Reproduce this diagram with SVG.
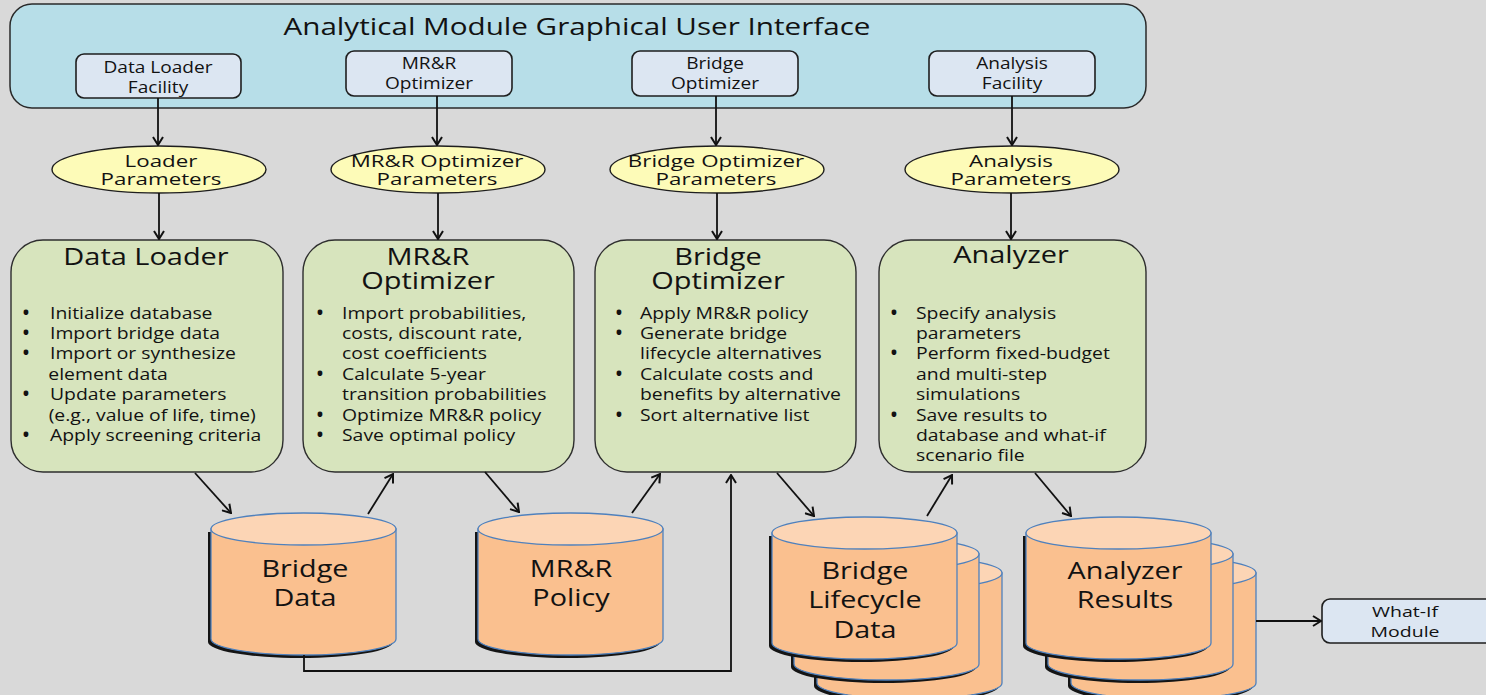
<svg xmlns="http://www.w3.org/2000/svg" xmlns:xlink="http://www.w3.org/1999/xlink" width="1486" height="695" viewBox="0 0 1486 695">
<style>
text{font-family:"Open Sans","Noto Sans","Liberation Sans",sans-serif;fill:#121212}
.bg{fill:#d9d9d9}
.gui{fill:#b7dee8;stroke:#2a2a2a;stroke-width:1.5}
.fac{fill:#dce6f2;stroke:#1e1e1e;stroke-width:1.6}
.par{fill:#fdfbb8;stroke:#1e1e1e;stroke-width:1.4}
.mod{fill:#d7e4bd;stroke:#2e2e2e;stroke-width:1.4}
.cb{fill:#fac08f;stroke:#4f81bd;stroke-width:1.3}
.ct{fill:#fcd5b5;stroke:#4f81bd;stroke-width:1.3}
.shd{fill:#141414}
.conn{fill:none;stroke:#111;stroke-width:1.8;marker-end:url(#ah)}
.title{font-size:23.4px}
.small{font-size:15.4px}
.ptxt{font-size:16.8px}
.mtitle{font-size:22.8px}
.body{font-size:17px}
.bul{font-size:17px;font-weight:bold}
.ctxt{font-size:23.4px}
.wtxt{font-size:15px}
</style>
<defs>
<marker id="ah" viewBox="0 0 12 12" refX="11" refY="6" markerWidth="12" markerHeight="12" markerUnits="userSpaceOnUse" orient="auto">
<path d="M3,1 L11,6 L3,11" fill="none" stroke="#111" stroke-width="2"/>
</marker>
<g id="cyl">
<path class="shd" d="M-3,3 V113 A92.5,16 0 0 0 182,113 V3 Z"/>
<path class="cb" d="M0,0 V110 A92.5,16 0 0 0 185,110 V0 Z"/>
<ellipse class="ct" cx="92.5" cy="0" rx="92.5" ry="16"/>
</g>
</defs>
<rect class="bg" x="0" y="0" width="1486" height="695"/>

<g id="gui">
<rect class="gui" x="10" y="4" width="1136" height="104" rx="22"/>
<text class="title" text-anchor="middle" transform="translate(577,35) scale(1.267,1)">Analytical Module Graphical User Interface</text>
</g>

<g id="fac-loader">
<rect class="fac" x="76" y="54" width="165" height="44" rx="8"/>
<text class="small" text-anchor="middle" transform="translate(158,0) scale(1.24,1)"><tspan x="0" y="73">Data Loader</tspan><tspan x="0" y="93">Facility</tspan></text>
</g>
<g id="fac-mrr">
<rect class="fac" x="346" y="51" width="166" height="45" rx="8"/>
<text class="small" text-anchor="middle" transform="translate(429,0) scale(1.24,1)"><tspan x="0" y="69">MR&amp;R</tspan><tspan x="0" y="89">Optimizer</tspan></text>
</g>
<g id="fac-bridge">
<rect class="fac" x="632" y="51" width="166" height="45" rx="8"/>
<text class="small" text-anchor="middle" transform="translate(715,0) scale(1.24,1)"><tspan x="0" y="69">Bridge</tspan><tspan x="0" y="89">Optimizer</tspan></text>
</g>
<g id="fac-analysis">
<rect class="fac" x="929" y="51" width="166" height="45" rx="8"/>
<text class="small" text-anchor="middle" transform="translate(1012,0) scale(1.24,1)"><tspan x="0" y="69">Analysis</tspan><tspan x="0" y="89">Facility</tspan></text>
</g>

<g id="par-loader">
<ellipse class="par" cx="159" cy="169.5" rx="107" ry="23.5"/>
<text class="ptxt" text-anchor="middle" transform="translate(161,0) scale(1.33,1)"><tspan x="0" y="167">Loader</tspan><tspan x="0" y="185">Parameters</tspan></text>
</g>
<g id="par-mrr">
<ellipse class="par" cx="438" cy="169.5" rx="107" ry="23.5"/>
<text class="ptxt" text-anchor="middle" transform="translate(437,0) scale(1.33,1)"><tspan x="0" y="167">MR&amp;R Optimizer</tspan><tspan x="0" y="185">Parameters</tspan></text>
</g>
<g id="par-bridge">
<ellipse class="par" cx="717" cy="169.5" rx="107" ry="23.5"/>
<text class="ptxt" text-anchor="middle" transform="translate(716,0) scale(1.33,1)"><tspan x="0" y="167">Bridge Optimizer</tspan><tspan x="0" y="185">Parameters</tspan></text>
</g>
<g id="par-analysis">
<ellipse class="par" cx="1012" cy="169.5" rx="107" ry="23.5"/>
<text class="ptxt" text-anchor="middle" transform="translate(1011,0) scale(1.33,1)"><tspan x="0" y="167">Analysis</tspan><tspan x="0" y="185">Parameters</tspan></text>
</g>

<g id="mod-loader">
<rect class="mod" x="11" y="240" width="272" height="232" rx="32"/>
<text class="mtitle" text-anchor="middle" transform="translate(146,265) scale(1.27,1)">Data Loader</text>
<text class="bul" text-anchor="middle"><tspan x="26" y="319">•</tspan><tspan x="26" y="339">•</tspan><tspan x="26" y="359">•</tspan><tspan x="26" y="400">•</tspan><tspan x="26" y="441">•</tspan></text>
<text class="body" transform="translate(50,0) scale(1.14,1)"><tspan x="0" y="319">Initialize database</tspan><tspan x="0" y="339">Import bridge data</tspan><tspan x="0" y="359">Import or synthesize</tspan><tspan x="-1.5" y="380">element data</tspan><tspan x="0" y="400">Update parameters</tspan><tspan x="-1.2" y="421">(e.g., value of life, time)</tspan><tspan x="0" y="441">Apply screening criteria</tspan></text>
</g>
<g id="mod-mrr">
<rect class="mod" x="303" y="240" width="271" height="232" rx="32"/>
<text class="mtitle" text-anchor="middle" transform="translate(428,0) scale(1.27,1)"><tspan x="0" y="265">MR&amp;R</tspan><tspan x="0" y="289">Optimizer</tspan></text>
<text class="bul" text-anchor="middle"><tspan x="320" y="319">•</tspan><tspan x="320" y="380">•</tspan><tspan x="320" y="421">•</tspan><tspan x="320" y="441">•</tspan></text>
<text class="body" transform="translate(342,0) scale(1.14,1)"><tspan x="0" y="319">Import probabilities,</tspan><tspan x="0" y="339">costs, discount rate,</tspan><tspan x="0" y="359">cost coefficients</tspan><tspan x="0" y="380">Calculate 5-year</tspan><tspan x="0" y="400">transition probabilities</tspan><tspan x="0" y="421">Optimize MR&amp;R policy</tspan><tspan x="0" y="441">Save optimal policy</tspan></text>
</g>
<g id="mod-bridge">
<rect class="mod" x="595" y="240" width="261" height="232" rx="32"/>
<text class="mtitle" text-anchor="middle" transform="translate(718,0) scale(1.27,1)"><tspan x="0" y="265">Bridge</tspan><tspan x="0" y="289">Optimizer</tspan></text>
<text class="bul" text-anchor="middle"><tspan x="619" y="319">•</tspan><tspan x="619" y="339">•</tspan><tspan x="619" y="380">•</tspan><tspan x="619" y="421">•</tspan></text>
<text class="body" transform="translate(640,0) scale(1.14,1)"><tspan x="0" y="319">Apply MR&amp;R policy</tspan><tspan x="0" y="339">Generate bridge</tspan><tspan x="0" y="359">lifecycle alternatives</tspan><tspan x="0" y="380">Calculate costs and</tspan><tspan x="0" y="400">benefits by alternative</tspan><tspan x="0" y="421">Sort alternative list</tspan></text>
</g>
<g id="mod-analyzer">
<rect class="mod" x="879" y="240" width="267" height="232" rx="32"/>
<text class="mtitle" text-anchor="middle" transform="translate(1011,263) scale(1.27,1)">Analyzer</text>
<text class="bul" text-anchor="middle"><tspan x="894" y="319">•</tspan><tspan x="894" y="359">•</tspan><tspan x="894" y="421">•</tspan></text>
<text class="body" transform="translate(916,0) scale(1.14,1)"><tspan x="0" y="319">Specify analysis</tspan><tspan x="0" y="339">parameters</tspan><tspan x="0" y="359">Perform fixed-budget</tspan><tspan x="0" y="380">and multi-step</tspan><tspan x="0" y="400">simulations</tspan><tspan x="0" y="421">Save results to</tspan><tspan x="0" y="441">database and what-if</tspan><tspan x="0" y="461">scenario file</tspan></text>
</g>

<g id="db-bridge-data">
<use xlink:href="#cyl" href="#cyl" x="211" y="529"/>
<text class="ctxt" text-anchor="middle" transform="translate(305,0) scale(1.23,1)"><tspan x="0" y="577">Bridge</tspan><tspan x="0" y="606">Data</tspan></text>
</g>
<g id="db-mrr-policy">
<use xlink:href="#cyl" href="#cyl" x="478" y="529"/>
<text class="ctxt" text-anchor="middle" transform="translate(571,0) scale(1.23,1)"><tspan x="0" y="577">MR&amp;R</tspan><tspan x="0" y="606">Policy</tspan></text>
</g>
<g id="db-lifecycle">
<use xlink:href="#cyl" href="#cyl" x="817" y="573"/>
<use xlink:href="#cyl" href="#cyl" x="794" y="554"/>
<use xlink:href="#cyl" href="#cyl" x="772" y="533"/>
<text class="ctxt" text-anchor="middle" transform="translate(865,0) scale(1.23,1)"><tspan x="0" y="579">Bridge</tspan><tspan x="0" y="608">Lifecycle</tspan><tspan x="0" y="638">Data</tspan></text>
</g>
<g id="db-results">
<use xlink:href="#cyl" href="#cyl" x="1071" y="573"/>
<use xlink:href="#cyl" href="#cyl" x="1048" y="554"/>
<use xlink:href="#cyl" href="#cyl" x="1026" y="533"/>
<text class="ctxt" text-anchor="middle" transform="translate(1125,0) scale(1.23,1)"><tspan x="0" y="579">Analyzer</tspan><tspan x="0" y="608">Results</tspan></text>
</g>
<g id="whatif">
<rect class="fac" x="1322" y="599" width="175" height="44" rx="8"/>
<text class="wtxt" text-anchor="middle" transform="translate(1405,0) scale(1.3,1)"><tspan x="0" y="617">What-If</tspan><tspan x="0" y="637">Module</tspan></text>
</g>

<g id="connectors">
<line class="conn" x1="158" y1="98" x2="158" y2="145"/>
<line class="conn" x1="437" y1="96" x2="437" y2="145"/>
<line class="conn" x1="716" y1="96" x2="716" y2="145"/>
<line class="conn" x1="1012" y1="96" x2="1012" y2="145"/>
<line class="conn" x1="159" y1="193" x2="159" y2="239"/>
<line class="conn" x1="438" y1="193" x2="438" y2="239"/>
<line class="conn" x1="717" y1="193" x2="717" y2="239"/>
<line class="conn" x1="1011" y1="193" x2="1011" y2="239"/>
<line class="conn" x1="195" y1="473" x2="231" y2="513"/>
<line class="conn" x1="368" y1="514" x2="393" y2="474"/>
<line class="conn" x1="485" y1="472" x2="519" y2="512"/>
<line class="conn" x1="632" y1="513" x2="660" y2="474"/>
<path class="conn" d="M304,655 V671 H731 V475"/>
<line class="conn" x1="777" y1="473" x2="814" y2="516"/>
<line class="conn" x1="927" y1="516" x2="952" y2="475"/>
<line class="conn" x1="1035" y1="473" x2="1071" y2="516"/>
<line class="conn" x1="1256" y1="621" x2="1321" y2="621"/>
</g>
</svg>
